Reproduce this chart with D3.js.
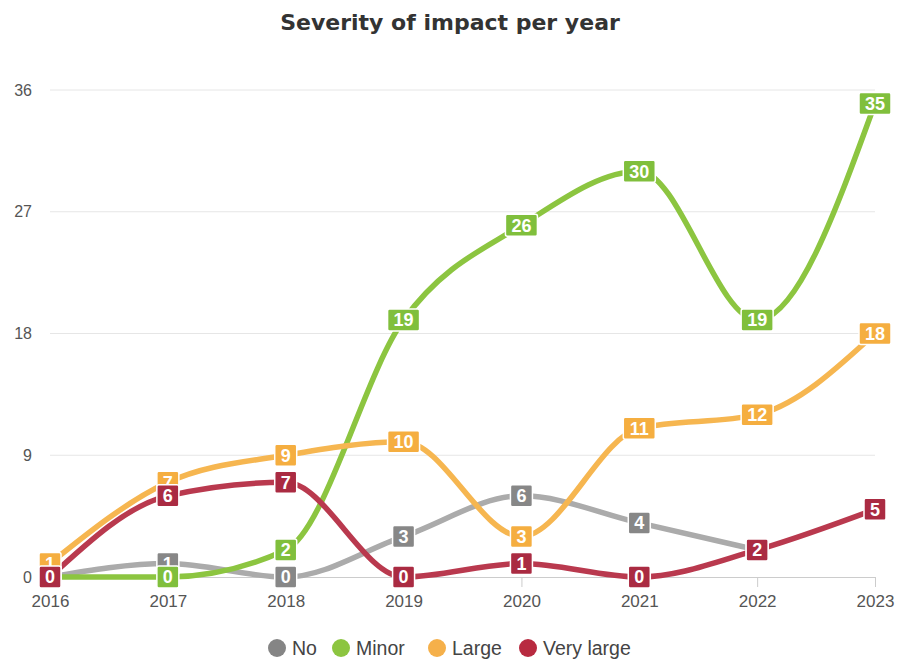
<!DOCTYPE html>
<html>
<head>
<meta charset="utf-8">
<script src="https://cdn.jsdelivr.net/npm/d3@7"></script>
<style>
  html, body { margin: 0; padding: 0; background: #fff; }
  svg { display: block; }
</style>
</head>
<body>
<svg id="chart" width="898" height="664"></svg>
<script>
// Data
const years = ["2016", "2017", "2018", "2019", "2020", "2021", "2022", "2023"];
const seriesNames = ["No", "Minor", "Large", "Very large"];
const noValues = [0, 1, 0, 3, 6, 4, 2, null];
const minorValues = [0, 0, 2, 19, 26, 30, 19, 35];
const largeValues = [1, 7, 9, 10, 3, 11, 12, 18];
const veryLargeValues = [0, 6, 7, 0, 1, 0, 2, 5];
const yTicks = [0, 9, 18, 27, 36];

const series = [
  { name: seriesNames[0], values: noValues, line: "#ababab", box: "#878787", dot: "#858585" },
  { name: seriesNames[1], values: minorValues, line: "#8cc540", box: "#80bf3c", dot: "#8cc540" },
  { name: seriesNames[2], values: largeValues, line: "#f6b650", box: "#f5ae40", dot: "#f5b04a" },
  { name: seriesNames[3], values: veryLargeValues, line: "#b9394e", box: "#aa2b42", dot: "#b82a40" }
];

const svg = d3.select("#chart");
const font = "'Liberation Sans', Arial, sans-serif";

const x = d3.scalePoint().domain(years).range([50, 875]);
const y = d3.scaleLinear().domain([0, 36]).range([577, 90]);

// Title
svg.append("text")
  .attr("x", 450).attr("y", 30)
  .attr("text-anchor", "middle")
  .attr("font-family", "'DejaVu Sans', Verdana, sans-serif")
  .attr("font-weight", "bold")
  .attr("font-size", 22)
  .attr("fill", "#333")
  .text("Severity of impact per year");

// Horizontal grid lines
svg.append("g")
  .selectAll("line")
  .data(yTicks.filter(t => t > 0))
  .join("line")
  .attr("x1", 50).attr("x2", 875)
  .attr("y1", d => y(d)).attr("y2", d => y(d))
  .attr("stroke", "#e6e6e6").attr("stroke-width", 1);

// Y axis labels
const yAxis = svg.append("g")
  .attr("transform", "translate(42,0)")
  .call(d3.axisLeft(y).tickValues(yTicks).tickSize(0).tickPadding(10));
yAxis.select(".domain").remove();
yAxis.selectAll("text")
  .attr("font-family", font).attr("font-size", 16).attr("fill", "#555");

// X axis
const xAxis = svg.append("g")
  .attr("transform", `translate(0,${y(0)})`)
  .call(d3.axisBottom(x).tickSize(10).tickPadding(8).tickSizeOuter(0));
xAxis.select(".domain").attr("stroke", "#cccccc");
xAxis.selectAll(".tick line").attr("stroke", "#cccccc");
xAxis.selectAll("text")
  .attr("font-family", font).attr("font-size", 17).attr("fill", "#555");

// Lines
const line = d3.line()
  .defined(d => d.v !== null)
  .x(d => x(d.year))
  .y(d => y(d.v))
  .curve(d3.curveMonotoneX);

const seriesData = series.map(s => ({
  ...s,
  points: years.map((yr, i) => ({ year: yr, v: s.values[i] }))
}));

svg.append("g")
  .selectAll("path")
  .data(seriesData)
  .join("path")
  .attr("d", d => line(d.points))
  .attr("fill", "none")
  .attr("stroke", d => d.line)
  .attr("stroke-width", 5.5)
  .attr("stroke-linecap", "round")
  .attr("stroke-linejoin", "round");

// Value labels
const labelLayer = svg.append("g");
seriesData.forEach(s => {
  s.points.filter(p => p.v !== null).forEach(p => {
    const txt = String(p.v);
    const w = txt.length > 1 ? 32 : 22;
    const h = 22;
    const g = labelLayer.append("g")
      .attr("transform", `translate(${x(p.year)},${y(p.v)})`);
    g.append("rect")
      .attr("x", -w / 2).attr("y", -h / 2)
      .attr("width", w).attr("height", h)
      .attr("rx", 2)
      .attr("fill", s.box)
      .attr("stroke", "#fff").attr("stroke-width", 1.5);
    g.append("text")
      .attr("text-anchor", "middle")
      .attr("dy", "0.36em")
      .attr("font-family", font)
      .attr("font-weight", "bold")
      .attr("font-size", 18)
      .attr("fill", "#fff")
      .text(txt);
  });
});

// Legend
const legendX = [277, 341, 437, 528];
const legend = svg.append("g");
series.forEach((s, i) => {
  legend.append("circle")
    .attr("cx", legendX[i]).attr("cy", 648).attr("r", 9)
    .attr("fill", s.dot);
  legend.append("text")
    .attr("x", legendX[i] + 15).attr("y", 648)
    .attr("dy", "0.36em")
    .attr("font-family", font)
    .attr("font-size", 19.5)
    .attr("fill", "#444")
    .text(s.name);
});
</script>
</body>
</html>
